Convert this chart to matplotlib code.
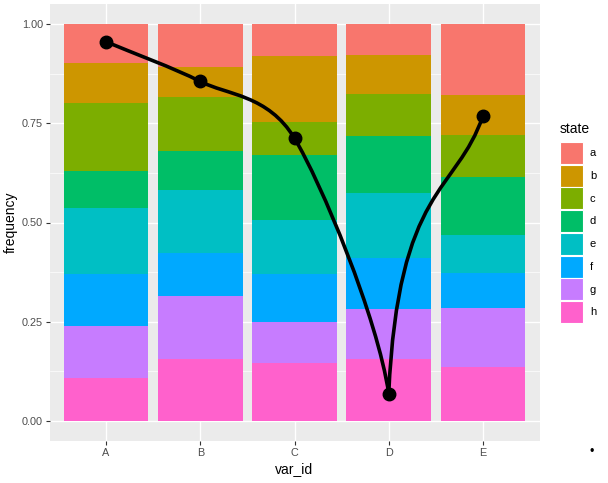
import matplotlib
matplotlib.use("Agg")
import matplotlib.pyplot as plt
from matplotlib.path import Path
from matplotlib.patches import PathPatch, Patch
from matplotlib.ticker import MultipleLocator
import numpy as np

plt.rcParams['font.family'] = ['Liberation Sans', 'DejaVu Sans']

# ---- data ----
var_ids = ["A", "B", "C", "D", "E"]
states = ["a", "b", "c", "d", "e", "f", "g", "h"]
freq_a = [0.098, 0.108, 0.081, 0.078, 0.179]
freq_b = [0.101, 0.077, 0.166, 0.098, 0.101]
freq_c = [0.171, 0.135, 0.083, 0.106, 0.105]
freq_d = [0.093, 0.098, 0.164, 0.144, 0.146]
freq_e = [0.167, 0.159, 0.136, 0.163, 0.096]
freq_f = [0.131, 0.108, 0.121, 0.129, 0.088]
freq_g = [0.130, 0.159, 0.103, 0.126, 0.149]
freq_h = [0.109, 0.156, 0.146, 0.156, 0.136]
line_values = [0.955, 0.855, 0.712, 0.069, 0.769]

colors = ["#F8766D", "#CD9600", "#7CAE00", "#00BE67",
          "#00BFC4", "#00A9FF", "#C77CFF", "#FF61CC"]

series = [freq_a, freq_b, freq_c, freq_d, freq_e, freq_f, freq_g, freq_h]

fig = plt.figure(figsize=(6.08, 4.83), dpi=100)
ax = fig.add_axes([49.5/608, (483-441)/483, 490/608, 437/483])
ax.set_facecolor("#EBEBEB")

x = np.arange(1, len(var_ids) + 1)
# stack: h at bottom, a on top
bottom = np.zeros(len(var_ids))
for s, c in zip(series[::-1], colors[::-1]):
    vals = np.array(s)
    ax.bar(x, vals, width=0.9, bottom=bottom, color=c, zorder=2, linewidth=0)
    bottom += vals

# smooth line through points (cubic Bezier segments, cusp at sharp extrema)
xs = x.astype(float)
ys = np.array(line_values)
n = len(xs)
tension = 0.28
out_h = []
in_h = []
for i in range(n):
    sl = ys[i] - ys[i-1] if i > 0 else ys[1] - ys[0]
    sr = ys[i+1] - ys[i] if i < n-1 else ys[-1] - ys[-2]
    if i > 0 and i < n-1 and sl * sr < 0 and min(abs(sl), abs(sr)) > 0.3:
        in_h.append((xs[i] - 0.12, ys[i] - sl * 0.3))
        out_h.append((xs[i] + 0.1, ys[i] + sr * 0.75))
    else:
        m = (sl + sr) / 2
        in_h.append((xs[i] - tension, ys[i] - m * tension))
        out_h.append((xs[i] + tension, ys[i] + m * tension))
verts = [(xs[0], ys[0])]
codes = [Path.MOVETO]
for i in range(n - 1):
    verts += [out_h[i], in_h[i+1], (xs[i+1], ys[i+1])]
    codes += [Path.CURVE4] * 3
ax.add_patch(PathPatch(Path(verts, codes), facecolor="none", edgecolor="black",
                       linewidth=2.6, zorder=3, capstyle="round", joinstyle="round"))
ax.plot(xs, ys, "o", color="black", markersize=9, zorder=4)

ax.set_xlim(0.4, 5.6)
ax.set_ylim(-0.05, 1.05)
ax.set_xticks(x)
ax.set_xticklabels(var_ids)
ax.set_yticks([0, 0.25, 0.5, 0.75, 1.0])
ax.set_yticklabels(["0.00", "0.25", "0.50", "0.75", "1.00"])
ax.yaxis.set_minor_locator(MultipleLocator(0.125))
ax.grid(which="major", color="white", linewidth=1.0, zorder=0)
ax.grid(which="minor", axis="y", color="white", linewidth=0.5, zorder=0)
ax.set_axisbelow(True)
for sp in ax.spines.values():
    sp.set_visible(False)
ax.tick_params(axis="both", which="major", length=2.75, width=0.8, color="#333333",
               labelcolor="#4D4D4D", labelsize=7.8, pad=2)
ax.tick_params(axis="both", which="minor", length=0)
ax.set_xlabel("var_id", fontsize=10, color="black", labelpad=3)
ax.set_ylabel("frequency", fontsize=10, color="black", labelpad=3)

handles = [Patch(facecolor=c, edgecolor="white", linewidth=0.8, label=s)
           for s, c in zip(states, colors)]
leg = fig.legend(handles=handles, title="state", loc="upper left",
                 bbox_to_anchor=(551/608, 1 - 113/483), frameon=False,
                 fontsize=8, title_fontsize=10, handlelength=2.05, handleheight=2.67,
                 labelspacing=0.06, handletextpad=0.65, borderpad=0.3)
leg._legend_box.align = "left"
leg._legend_box.sep = 4.5

fig.text(592/608, 1 - 452/483, "•", fontsize=9, ha="center", va="center", color="black")

fig.savefig("out.png", dpi=100)
